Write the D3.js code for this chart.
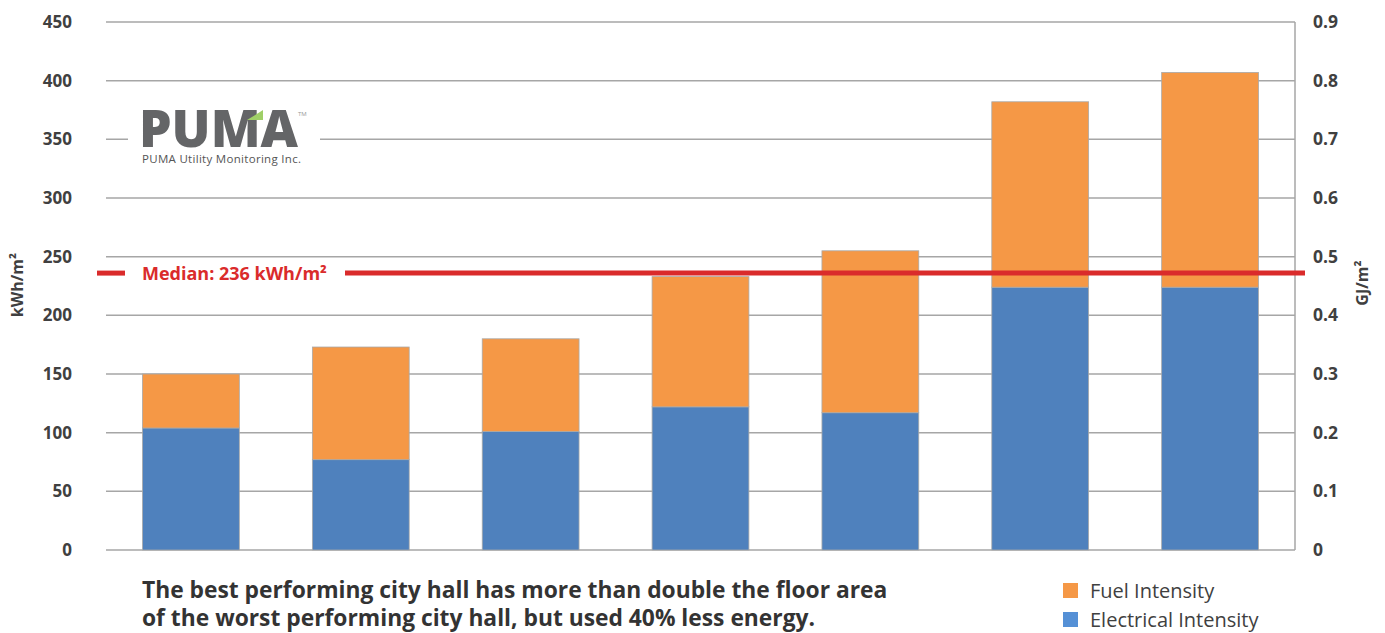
<!DOCTYPE html>
<html>
<head>
<meta charset="utf-8">
<script src="https://cdn.jsdelivr.net/npm/d3@7"></script>
<style>
  html, body { margin: 0; padding: 0; background: #fff; }
  svg { display: block; font-family: "Open Sans", "Noto Sans", sans-serif; }
</style>
</head>
<body>
<svg id="chart" width="1385" height="633"></svg>
<script>
// City halls, ranked from best to worst energy use intensity
const buildings = ["Hall 1", "Hall 2", "Hall 3", "Hall 4", "Hall 5", "Hall 6", "Hall 7"];
const electrical = [104, 77, 101, 122, 117, 224, 224];      // kWh/m²
const fuel       = [46, 96, 79, 111, 138, 158, 183];        // kWh/m²
const leftTicks  = [0, 50, 100, 150, 200, 250, 300, 350, 400, 450];
const rightTicks = [0, 0.1, 0.2, 0.3, 0.4, 0.5, 0.6, 0.7, 0.8, 0.9];
const median = 236;
const seriesNames = ["Fuel Intensity", "Electrical Intensity"];
const captionLines = [
  "The best performing city hall has more than double the floor area",
  "of the worst performing city hall, but used 40% less energy."
];

const colors = { fuel: "#f59846", elec: "#4f81bd", grid: "#a6a6a6", red: "#da2b2b", text: "#404040" };

const svg = d3.select("#chart");
const m = { left: 106, right: 1295, top: 22, bottom: 550 };

const x = d3.scaleBand().domain(buildings).range([m.left, m.right]).paddingInner(0.43).paddingOuter(0.215);
const y = d3.scaleLinear().domain([0, 450]).range([m.bottom, m.top]);
const y2 = d3.scaleLinear().domain([0, 0.9]).range([m.bottom, m.top]);

// gridlines
svg.append("g").selectAll("line").data(leftTicks).join("line")
  .attr("x1", m.left).attr("x2", m.right)
  .attr("y1", d => y(d)).attr("y2", d => y(d))
  .attr("stroke", colors.grid).attr("stroke-width", 1.5);

// right axis line
svg.append("line").attr("x1", m.right).attr("x2", m.right)
  .attr("y1", m.top).attr("y2", m.bottom)
  .attr("stroke", colors.grid).attr("stroke-width", 1.5);

// left axis labels
const ax = svg.append("g").attr("transform", `translate(${m.left},0)`)
  .call(d3.axisLeft(y).tickValues(leftTicks).tickSize(0).tickPadding(34));
ax.select(".domain").remove();
ax.selectAll("text").attr("font-size", 17).attr("font-weight", 700)
  .attr("fill", colors.text).attr("font-family", "Open Sans, sans-serif");

// right axis labels
const ax2 = svg.append("g").attr("transform", `translate(${m.right},0)`)
  .call(d3.axisRight(y2).tickValues(rightTicks).tickSize(0).tickPadding(18)
    .tickFormat(d => d === 0 ? "0" : d3.format(".1f")(d)));
ax2.select(".domain").remove();
ax2.selectAll("text").attr("font-size", 17.5).attr("font-weight", 700)
  .attr("fill", colors.text).attr("font-family", "Open Sans, sans-serif");

// axis titles
svg.append("text").attr("transform", `translate(23,285) rotate(-90)`)
  .attr("text-anchor", "middle").attr("font-size", 16).attr("font-weight", 700)
  .attr("fill", colors.text).text("kWh/m²");
svg.append("text").attr("transform", `translate(1368,283) rotate(-90)`)
  .attr("text-anchor", "middle").attr("font-size", 16).attr("font-weight", 700)
  .attr("fill", colors.text).text("GJ/m²");

// stacked bars
const rows = buildings.map((b, i) => ({ b, elec: electrical[i], fuel: fuel[i] }));
const stack = d3.stack().keys(["elec", "fuel"])(rows);
svg.append("g").selectAll("g").data(stack).join("g")
  .attr("fill", d => d.key === "elec" ? colors.elec : colors.fuel)
  .selectAll("rect").data(d => d).join("rect")
  .attr("x", d => x(d.data.b)).attr("width", x.bandwidth())
  .attr("y", d => y(d[1])).attr("height", d => y(d[0]) - y(d[1]))
  .attr("stroke", "#a9a9a9").attr("stroke-width", 0.8);

// median line with label
const my = y(median);
svg.append("line").attr("x1", 97).attr("x2", 125).attr("y1", my).attr("y2", my)
  .attr("stroke", colors.red).attr("stroke-width", 5);
svg.append("line").attr("x1", 345).attr("x2", 1305).attr("y1", my).attr("y2", my)
  .attr("stroke", colors.red).attr("stroke-width", 5);
svg.append("text").attr("x", 142).attr("y", my + 6.5)
  .attr("font-size", 18).attr("font-weight", 700).attr("fill", colors.red)
  .text(`Median: ${median} kWh/m²`);

// logo
const logo = svg.append("g");
logo.append("rect").attr("x", 128).attr("y", 100).attr("width", 192).attr("height", 70).attr("fill", "#fff");
logo.append("text").attr("x", 139).attr("y", 147)
  .attr("font-family", "Open Sans, sans-serif").attr("font-size", 51).attr("font-weight", 800)
  .attr("fill", "#646567").attr("textLength", 159).attr("lengthAdjust", "spacingAndGlyphs")
  .text("PUMA");
logo.append("path").attr("d", "M247,120 L263,110 L263,120 Z").attr("fill", "#9fcf67");
logo.append("text").attr("x", 298).attr("y", 116).attr("font-size", 6).attr("fill", "#999").text("TM");
logo.append("text").attr("x", 142).attr("y", 163)
  .attr("font-size", 11.5).attr("fill", "#555").attr("letter-spacing", 0.3)
  .text("PUMA Utility Monitoring Inc.");

// caption
svg.append("g").selectAll("text").data(captionLines).join("text")
  .attr("x", 142).attr("y", (d, i) => 598 + i * 28)
  .attr("font-size", 22.8).attr("font-weight", 700).attr("fill", "#333")
  .text(d => d);

// legend
const legend = svg.append("g").selectAll("g").data(seriesNames).join("g")
  .attr("transform", (d, i) => `translate(1063,${583 + i * 29})`);
legend.append("rect").attr("width", 15).attr("height", 15)
  .attr("fill", (d, i) => i === 0 ? colors.fuel : "#5590d6");
legend.append("text").attr("x", 27).attr("y", 15).attr("font-size", 20)
  .attr("fill", "#404040").text(d => d);
</script>
</body>
</html>
